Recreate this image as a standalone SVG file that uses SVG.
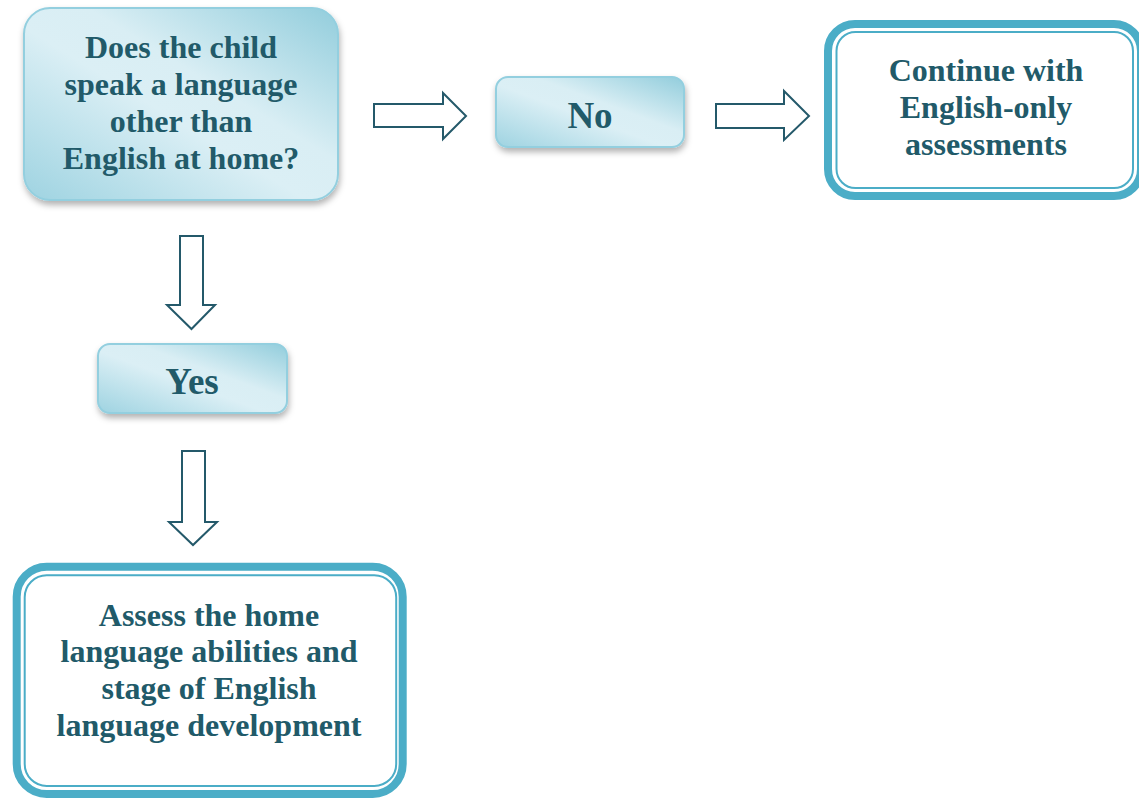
<svg xmlns="http://www.w3.org/2000/svg" width="1139" height="801" viewBox="0 0 1139 801">
<defs>
<linearGradient id="g" x1="0" y1="1" x2="1" y2="0">
<stop offset="0" stop-color="#9ed3e1"/>
<stop offset="0.45" stop-color="#dbeff5"/>
<stop offset="0.6" stop-color="#d9eef4"/>
<stop offset="1" stop-color="#92cddc"/>
</linearGradient>
<filter id="sh" x="-10%" y="-10%" width="120%" height="130%">
<feDropShadow dx="1" dy="4" stdDeviation="3" flood-color="#000" flood-opacity="0.3"/>
</filter>
<style>
.t{font-family:"Liberation Serif","Times New Roman",serif;font-weight:bold;fill:#215a69;text-anchor:middle}
.s{font-size:32px}
.b{font-size:37px}
.grad{fill:url(#g);stroke:#93cfdf;stroke-width:2;filter:url(#sh)}
.thick{fill:#fff;stroke:#4badc7;stroke-width:8}
.thin{fill:none;stroke:#4badc7;stroke-width:2}
.arr{fill:#fff;stroke:#24596a;stroke-width:2;stroke-linejoin:miter}
</style>
</defs>
<g id="connectors">
<path class="arr" d="M374,104 H443 V93 L466,116 L443,139 V127 H374 Z"/>
<path class="arr" d="M716,104 H784 V91 L809,116 L784,140 V128 H716 Z"/>
<path class="arr" d="M180,236 V305 H167 L191.5,329 L215,305 H203 V236 Z"/>
<path class="arr" d="M182,451 V522 H169 L193,545 L217,522 H205 V451 Z"/>
</g>
<g id="question">
<rect class="grad" x="24" y="8" width="314" height="192" rx="26"/>
<text class="t s" x="181" y="58">Does the child</text>
<text class="t s" x="181" y="95">speak a language</text>
<text class="t s" x="181" y="132">other than</text>
<text class="t s" x="181" y="169">English at home?</text>
</g>
<g id="no">
<rect class="grad" x="496" y="77" width="188" height="70" rx="12"/>
<text class="t b" x="590" y="128">No</text>
</g>
<g id="yes">
<rect class="grad" x="98" y="344" width="189" height="69" rx="12"/>
<text class="t b" x="192" y="394">Yes</text>
</g>
<g id="continue">
<rect class="thick" x="828" y="24" width="313" height="172" rx="27"/>
<rect class="thin" x="836.5" y="32" width="296.5" height="156" rx="19"/>
<text class="t s" x="986" y="81">Continue with</text>
<text class="t s" x="986" y="118">English-only</text>
<text class="t s" x="986" y="155">assessments</text>
</g>
<g id="assess">
<rect class="thick" x="16.7" y="566.7" width="386" height="227.3" rx="30"/>
<rect class="thin" x="24.7" y="575.3" width="371.5" height="210.7" rx="22"/>
<text class="t s" x="209" y="626">Assess the home</text>
<text class="t s" x="209" y="662">language abilities and</text>
<text class="t s" x="209" y="699">stage of English</text>
<text class="t s" x="209" y="736">language development</text>
</g>
</svg>
